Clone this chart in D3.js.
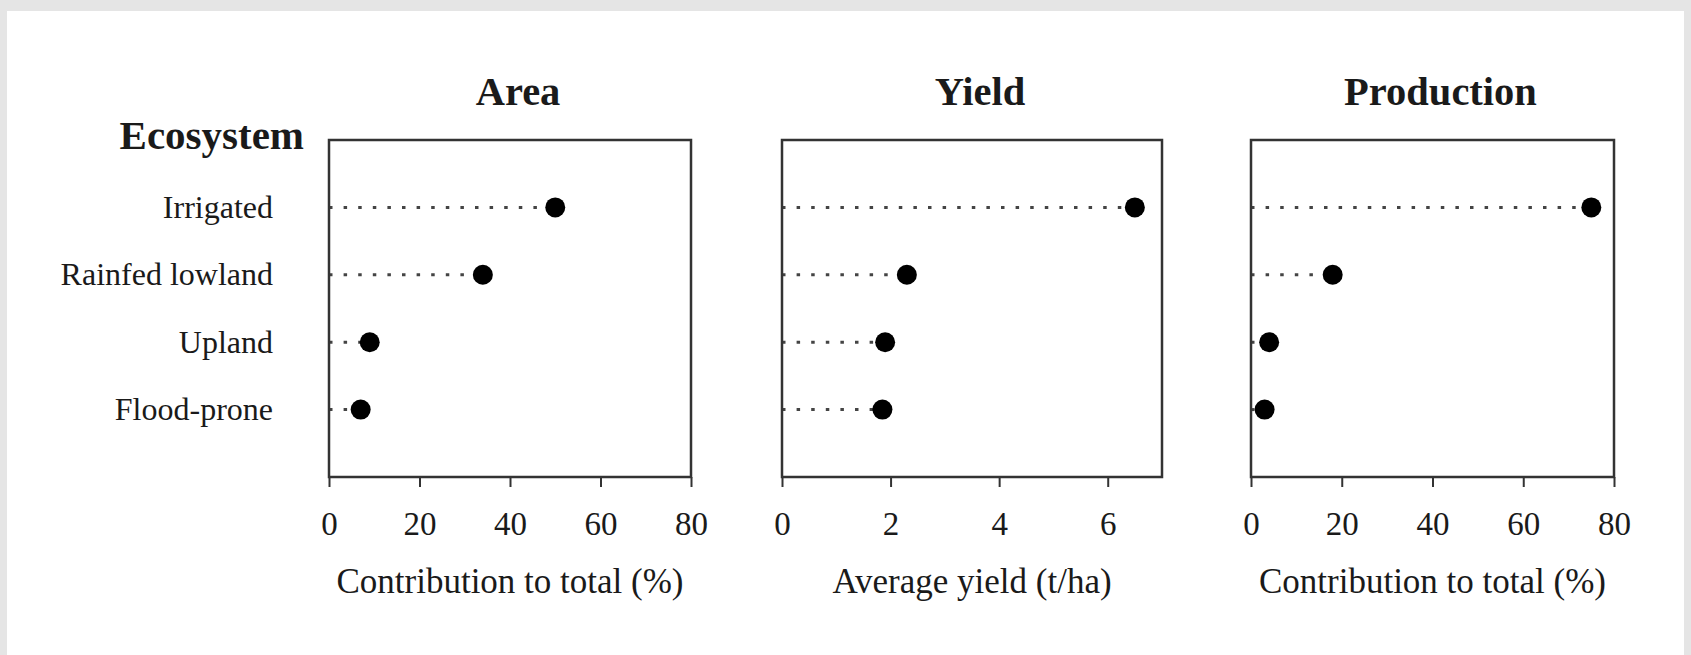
<!DOCTYPE html>
<html>
<head>
<meta charset="utf-8">
<script src="https://cdn.jsdelivr.net/npm/d3@7"></script>
<style>
  html, body { margin: 0; padding: 0; background: #e5e5e5; }
  #container { width: 1691px; height: 655px; }
  text { font-family: "Liberation Serif", "Times New Roman", serif; fill: #1a1a1a; }
</style>
</head>
<body>
<div id="container"></div>
<script>
// values
var ecosystems = ["Irrigated", "Rainfed lowland", "Upland", "Flood-prone"];
var areaPct = [50, 34, 9, 7];
var yieldTha = [6.5, 2.3, 1.9, 1.85];
var productionPct = [75, 18, 4, 3];

var panelTitles = ["Area", "Yield", "Production"];
var axisTitles = ["Contribution to total (%)", "Average yield (t/ha)", "Contribution to total (%)"];
var pctTicks = [0, 20, 40, 60, 80];
var yieldTicks = [0, 2, 4, 6];

var W = 1691, H = 655;
var plotTop = 140, plotBottom = 477;

var svg = d3.select("#container")
  .append("svg")
    .attr("width", W)
    .attr("height", H)
    .attr("id", "chart");

// white card on the grey page
svg.append("rect")
  .attr("x", 7).attr("y", 11)
  .attr("width", 1677).attr("height", H)
  .attr("fill", "#fff");

var y = d3.scalePoint()
  .domain(ecosystems)
  .range([plotTop, plotBottom])
  .padding(1);

// row labels
svg.append("text")
  .attr("x", 304).attr("y", 149)
  .attr("text-anchor", "end")
  .attr("font-weight", "bold")
  .attr("font-size", 41)
  .text("Ecosystem");

svg.selectAll(".rowlab")
  .data(ecosystems)
  .enter().append("text")
    .attr("class", "rowlab")
    .attr("x", 273)
    .attr("y", function(d) { return y(d); })
    .attr("dy", "0.33em")
    .attr("text-anchor", "end")
    .attr("font-size", 32)
    .text(function(d) { return d; });

var panels = [
  { x0: 329, x1: 691, domain: [0, 80], ticks: pctTicks, values: areaPct },
  { x0: 782, x1: 1162, domain: [0, 7], ticks: yieldTicks, values: yieldTha },
  { x0: 1251, x1: 1614, domain: [0, 80], ticks: pctTicks, values: productionPct }
];

panels.forEach(function(p, i) {
  var x = d3.scaleLinear().domain(p.domain).range([p.x0, p.x1]);
  var g = svg.append("g");

  // panel title (sits a little right of the box centre)
  g.append("text")
    .attr("x", (p.x0 + p.x1) / 2 + 8).attr("y", 105)
    .attr("text-anchor", "middle")
    .attr("font-weight", "bold")
    .attr("font-size", 40.5)
    .text(panelTitles[i]);

  // x axis
  var ax = g.append("g")
    .attr("transform", "translate(0," + plotBottom + ")")
    .call(d3.axisBottom(x)
      .tickValues(p.ticks)
      .tickFormat(d3.format("d"))
      .tickSize(10).tickPadding(25).tickSizeOuter(0));
  ax.select(".domain").remove();
  ax.selectAll(".tick line").attr("stroke", "#333").attr("stroke-width", 2);
  ax.selectAll(".tick text")
    .attr("font-family", "Liberation Serif, Times New Roman, serif")
    .attr("font-size", 33)
    .attr("fill", "#1a1a1a");

  g.append("text")
    .attr("x", (p.x0 + p.x1) / 2).attr("y", 593)
    .attr("text-anchor", "middle")
    .attr("font-size", 35)
    .text(axisTitles[i]);

  var rows = ecosystems.map(function(d, j) { return { name: d, value: p.values[j] }; });

  // dotted leaders
  g.selectAll(".lead")
    .data(rows)
    .enter().append("line")
      .attr("class", "lead")
      .attr("x1", x(0))
      .attr("x2", function(d) { return x(d.value); })
      .attr("y1", function(d) { return y(d.name); })
      .attr("y2", function(d) { return y(d.name); })
      .attr("stroke", "#444")
      .attr("stroke-width", 3)
      .attr("stroke-dasharray", "3.5,11.1");

  g.selectAll(".dot")
    .data(rows)
    .enter().append("circle")
      .attr("class", "dot")
      .attr("cx", function(d) { return x(d.value); })
      .attr("cy", function(d) { return y(d.name); })
      .attr("r", 10)
      .attr("fill", "#000");

  // frame
  g.append("rect")
    .attr("x", p.x0).attr("y", plotTop)
    .attr("width", p.x1 - p.x0).attr("height", plotBottom - plotTop)
    .attr("fill", "none")
    .attr("stroke", "#333")
    .attr("stroke-width", 2.5);
});
</script>
</body>
</html>
